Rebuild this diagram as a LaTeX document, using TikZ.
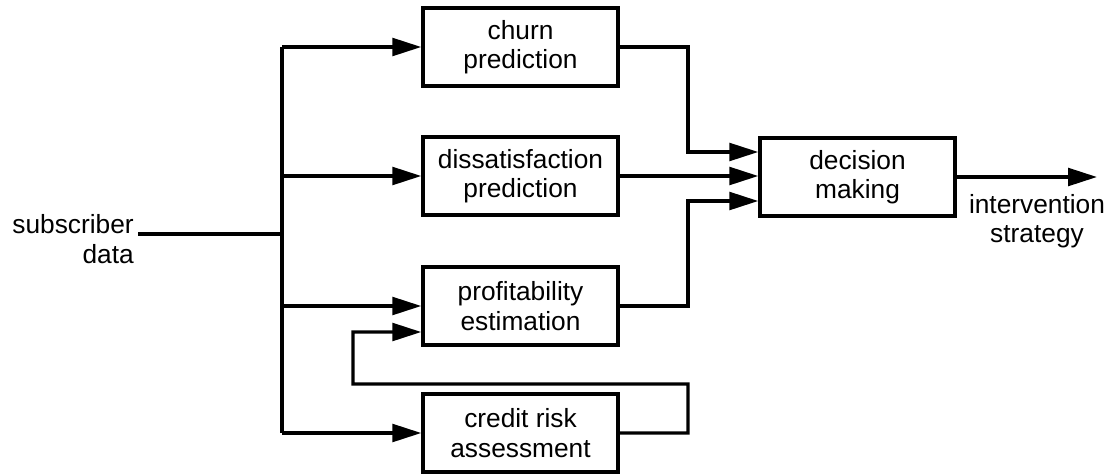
\documentclass[tikz,border=0pt]{standalone}
\usepackage{fontspec}
\setmainfont{Liberation Sans}
\usetikzlibrary{
    arrows.meta,
    positioning
}
\tikzset{
    box/.style={draw, line width=2.4pt, minimum width=4.875cm, minimum height=1.95cm,
        align=center, inner sep=0pt},
    wire/.style={line width=2.4pt},
    arr/.style={wire, -{Triangle[length=7.2mm,width=4.4mm]}}
}

\begin{document}
\begin{tikzpicture}[x=0.025cm, y=-0.025cm, font=\fontsize{18.7}{21}\selectfont]
        \useasboundingbox (0,0) rectangle (1116,474);

        % stage boxes
        \node[box] (churn)  at (520.5, 47) {churn\\prediction};
        \node[box] (dissat) at (520.5,176) {dissatisfaction\\prediction};
        \node[box] (profit) at (520.5,306) {profitability\\estimation};
        \node[box] (credit) at (520.5,433) {credit risk\\assessment};
        \node[box] (decide) at (857.5,177) {decision\\making};

        % in and out
        \node[align=right, anchor=east, inner sep=0pt] (subs) at (134,239) {subscriber\\data};
        \node[align=center, inner sep=0pt] (strat) at (1037,221) {intervention\\strategy};
        \coordinate (split) at (282,234);
        \coordinate (out)   at (1097,177);

        \draw[wire] (138,234) -- (split);
        \draw[wire] (split |- churn.west) -- (split |- credit.west);
        \draw[arr] (split |- churn.west)  -- (churn.west);
        \draw[arr] (split |- dissat.west) -- (dissat.west);
        \draw[arr] (split |- profit.west) -- (profit.west);
        \draw[arr] (split |- credit.west) -- (credit.west);

        % feedback from credit risk
        \draw[arr] (credit.east) -| (688,384) -| (353,332)
            -- ([yshift=-0.65cm]profit.west);

        % into decision making
        \draw[arr] (churn.east)  -| (688,100) |- ([yshift=0.625cm]decide.west);
        \draw[arr] (dissat.east) -- (dissat.east -| decide.west);
        \draw[arr] (profit.east) -| (688,250) |- ([yshift=-0.6cm]decide.west);
        \draw[arr] (decide.east) -- (out);
    \end{tikzpicture}
\end{document}
